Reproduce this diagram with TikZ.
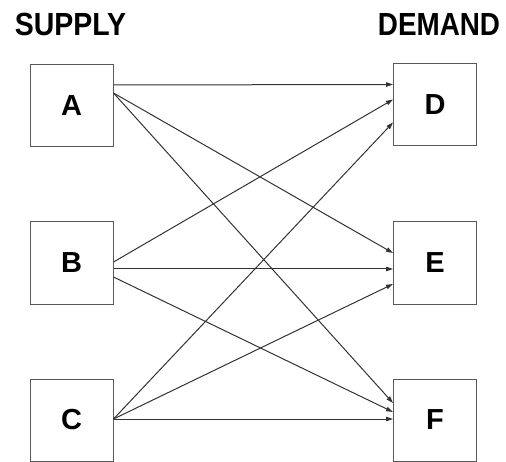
\documentclass[tikz,border=0pt]{standalone}
\usepackage{fontspec}
\setmainfont{Liberation Sans}
\usetikzlibrary{arrows.meta}
\begin{document}
\begin{tikzpicture}[x=1pt,y=1pt,
  site/.style={draw=black!65,line width=1pt,fill=white,minimum width=83pt,minimum height=82pt,
    inner sep=0pt,font=\fontsize{29}{29}\selectfont\bfseries},
  heading/.style={inner sep=0pt,font=\fontsize{32}{32}\selectfont\bfseries},
  flow/.style={draw=black!80,line width=1pt,-{Triangle[length=7pt,width=4.5pt]}}]
  \useasboundingbox (0,0) rectangle (506,461);
  \node[heading] (sup) at (70.5,437) {\scalebox{0.89}[1]{SUPPLY}};
  \node[heading] (dem) at (439,437) {\scalebox{0.87}[1]{DEMAND}};
  % supply points
  \node[site] (A) at (71.5,355.5) {\raisebox{-4pt}{A}};
  \node[site] (B) at (71.5,198) {\raisebox{-3pt}{B}};
  \node[site] (C) at (71.5,41) {\raisebox{-3pt}{C}};
  % demand points
  \node[site] (D) at (435,356) {\raisebox{-4pt}{D}};
  \node[site] (E) at (435,198) {\raisebox{-3pt}{E}};
  \node[site] (F) at (435,41) {\raisebox{-3pt}{F}};
  % routes from A
  \draw[flow] ([yshift=20.5pt]A.east) -- ([yshift=20.5pt]D.west);
  \draw[flow] ([yshift=12.5pt]A.east) -- ([yshift=10pt]E.west);
  \draw[flow] ([yshift=12.5pt]A.east) -- ([yshift=17pt]F.west);
  % routes from B
  \draw[flow] ([yshift=1pt]B.east) -- ([yshift=5.5pt]D.west);
  \draw[flow] ([yshift=-6pt]B.east) -- ([yshift=-6pt]E.west);
  \draw[flow] ([yshift=-14pt]B.east) -- ([yshift=8pt]F.west);
  % routes from C
  \draw[flow] ([yshift=1pt]C.east) -- ([yshift=-17.5pt]D.west);
  \draw[flow] ([yshift=1pt]C.east) -- ([yshift=-21pt]E.west);
  \draw[flow] ([yshift=1pt]C.east) -- ([yshift=1pt]F.west);
\end{tikzpicture}
\end{document}
